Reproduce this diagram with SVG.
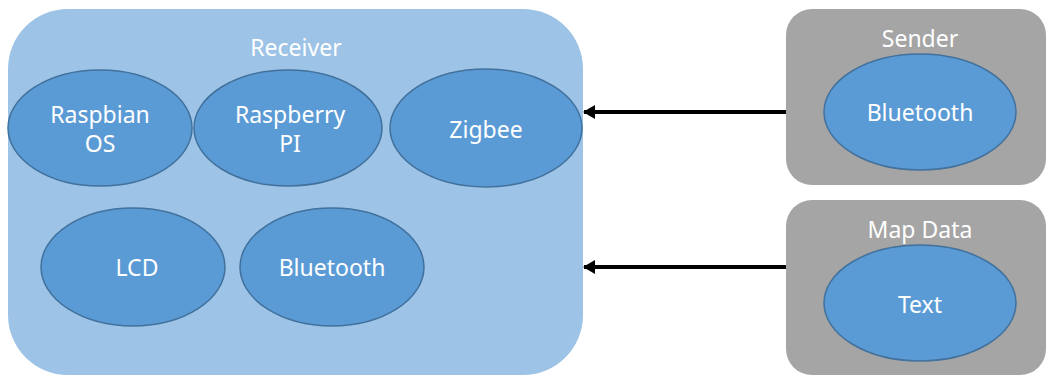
<svg xmlns="http://www.w3.org/2000/svg" width="1046" height="376" viewBox="0 0 1046 376">
<defs>
<style>
.box-r{fill:#9dc3e6;}
.box-g{fill:#a5a5a5;}
.ell{fill:#5b9bd5;stroke:#41719c;stroke-width:1.5;}
.t{font-family:"Noto Sans","DejaVu Sans",sans-serif;font-size:23px;fill:#ffffff;text-anchor:middle;}
.conn{stroke:#000000;stroke-width:4;fill:none;}
</style>
<marker id="ah" viewBox="0 0 12 14" refX="11" refY="7" markerWidth="12" markerHeight="14" markerUnits="userSpaceOnUse" orient="auto">
<path d="M0,0 L12,7 L0,14 Z" fill="#000000"/>
</marker>
</defs>
<rect width="1046" height="376" fill="#ffffff"/>
<g id="receiver">
<rect class="box-r" x="8" y="9" width="575" height="366" rx="60" ry="60"/>
<text class="t" x="296" y="56">Receiver</text>
</g>
<g id="raspbian-os">
<ellipse class="ell" cx="100" cy="128" rx="92" ry="58"/>
<text class="t" x="100" y="123">Raspbian</text>
<text class="t" x="100" y="152">OS</text>
</g>
<g id="raspberry-pi">
<ellipse class="ell" cx="288" cy="128" rx="94" ry="58"/>
<text class="t" x="290" y="123">Raspberry</text>
<text class="t" x="290" y="152">PI</text>
</g>
<g id="zigbee">
<ellipse class="ell" cx="486" cy="128" rx="96" ry="59"/>
<text class="t" x="486" y="138">Zigbee</text>
</g>
<g id="lcd">
<ellipse class="ell" cx="133" cy="267" rx="92" ry="59"/>
<text class="t" x="137" y="276">LCD</text>
</g>
<g id="bluetooth-r">
<ellipse class="ell" cx="332" cy="267" rx="92" ry="59"/>
<text class="t" x="332" y="276">Bluetooth</text>
</g>
<g id="sender">
<rect class="box-g" x="786" y="9" width="260" height="176" rx="26" ry="26"/>
<text class="t" x="920" y="47">Sender</text>
<ellipse class="ell" cx="920" cy="112" rx="96" ry="58"/>
<text class="t" x="920" y="121">Bluetooth</text>
</g>
<g id="map-data">
<rect class="box-g" x="786" y="200" width="260" height="175" rx="26" ry="26"/>
<text class="t" x="920" y="238">Map Data</text>
<ellipse class="ell" cx="920" cy="303" rx="96" ry="58"/>
<text class="t" x="920" y="313">Text</text>
</g>
<g id="connectors">
<line class="conn" x1="786" y1="112" x2="584" y2="112" marker-end="url(#ah)"/>
<line class="conn" x1="786" y1="267" x2="584" y2="267" marker-end="url(#ah)"/>
</g>
</svg>
